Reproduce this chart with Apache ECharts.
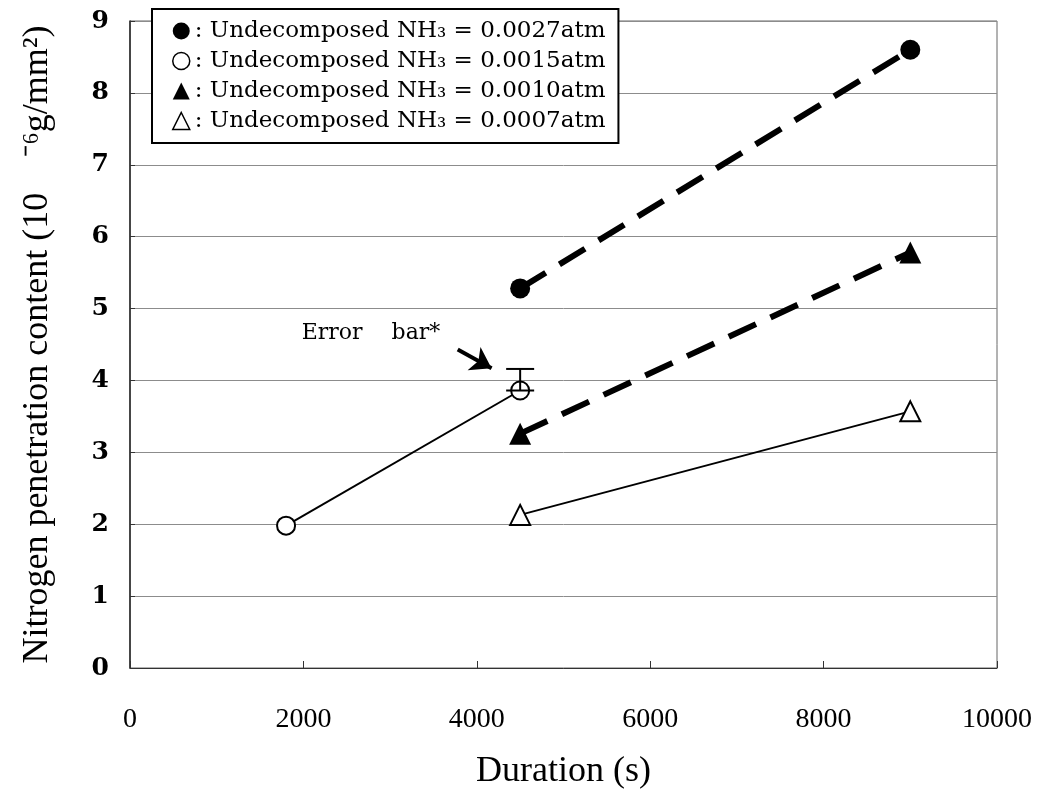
<!DOCTYPE html>
<html>
<head>
<meta charset="utf-8">
<script src="https://cdn.jsdelivr.net/npm/echarts@6/dist/echarts.min.js"></script>
<style>
  html, body { margin: 0; padding: 0; background: #fff; }
  #chart { width: 1049px; height: 796px; }
</style>
</head>
<body>
<div id="chart"></div>
<script>
// Nitrogen penetration content vs. duration, for four undecomposed NH3 pressures
const xTicks = [0, 2000, 4000, 6000, 8000, 10000];
const yTicks = [0, 1, 2, 3, 4, 5, 6, 7, 8, 9];

const seriesNames = [
  ': Undecomposed NH\u2083 = 0.0027atm',
  ': Undecomposed NH\u2083 = 0.0015atm',
  ': Undecomposed NH\u2083 = 0.0010atm',
  ': Undecomposed NH\u2083 = 0.0007atm'
];

// [duration (s), content (10^-6 g/mm^2)]
const nh3_0027 = [[4500, 5.28], [9000, 8.6]];
const nh3_0015 = [[1800, 1.98], [4500, 3.86]];
const nh3_0010 = [[4500, 3.26], [9000, 5.78]];
const nh3_0007 = [[4500, 2.13], [9000, 3.57]];

// error bar: [duration, low, high]
const errorBars = [[4500, 3.86, 4.16]];

// annotation: label anchor and arrow ends (data units)
const errorLabelPos = [2780, 4.65];
const errorArrow = [[3780, 4.43], [4170, 4.17]];

const serif = 'DejaVu Serif';
const tall = 'Liberation Serif';

const chart = echarts.init(document.getElementById('chart'), null, { renderer: 'canvas' });

const dashedStyle = { color: '#000', width: 6, type: [30, 16] };
const thinStyle = { color: '#000', width: 2 };

chart.setOption({
  animation: false,
  backgroundColor: '#fff',
  grid: {
    left: 130, right: 52, top: 21, bottom: 128,
    show: true, borderColor: '#666', borderWidth: 1, backgroundColor: 'transparent'
  },
  legend: {
    orient: 'vertical',
    left: 152, top: 9,
    padding: [9, 13, 9, 20],
    itemGap: 4,
    itemWidth: 17, itemHeight: 17,
    backgroundColor: '#fff',
    borderColor: '#000', borderWidth: 2,
    z: 10,
    textStyle: { fontFamily: serif, fontSize: 23, color: '#000', lineHeight: 26 },
    data: [
      { name: seriesNames[0], icon: 'circle', itemStyle: { color: '#000', borderWidth: 0 } },
      { name: seriesNames[1], icon: 'circle', itemStyle: { color: '#fff', borderColor: '#000', borderWidth: 1.5 } },
      { name: seriesNames[2], icon: 'triangle', itemStyle: { color: '#000', borderWidth: 0 } },
      { name: seriesNames[3], icon: 'triangle', itemStyle: { color: '#fff', borderColor: '#000', borderWidth: 1.5 } }
    ]
  },
  xAxis: {
    type: 'value',
    min: xTicks[0], max: xTicks[xTicks.length - 1], interval: 2000,
    name: 'Duration (s)',
    nameLocation: 'middle',
    nameGap: 86,
    nameTextStyle: { fontFamily: tall, fontSize: 36, color: '#000' },
    axisLine: { show: true, lineStyle: { color: '#333', width: 1 } },
    axisTick: { show: true, inside: true, length: 7, lineStyle: { color: '#333' } },
    axisLabel: {
      fontFamily: tall, fontSize: 28, color: '#000', margin: 38,
      formatter: function (v) { return String(v); }
    },
    splitLine: { show: false }
  },
  yAxis: {
    type: 'value',
    min: yTicks[0], max: yTicks[yTicks.length - 1], interval: 1,
    name: 'Nitrogen penetration content (10\u2003\u207B\u2076g/mm\u00B2)',
    nameLocation: 'middle',
    nameGap: 74,
    nameTextStyle: { fontFamily: tall, fontSize: 36, color: '#000' },
    axisLine: { show: true, lineStyle: { color: '#222', width: 1.5 } },
    axisTick: { show: true, inside: true, length: 5, lineStyle: { color: '#333' } },
    axisLabel: { fontFamily: serif, fontWeight: 'bold', fontSize: 25, color: '#000', margin: 21 },
    splitLine: { show: true, lineStyle: { color: '#8c8c8c', width: 1 } }
  },
  series: [
    {
      name: seriesNames[0], type: 'line', data: nh3_0027,
      symbol: 'circle', symbolSize: 20,
      itemStyle: { color: '#000' },
      lineStyle: dashedStyle, z: 3
    },
    {
      name: seriesNames[1], type: 'line', data: nh3_0015,
      symbol: 'circle', symbolSize: 18,
      itemStyle: { color: '#fff', borderColor: '#000', borderWidth: 2 },
      lineStyle: thinStyle, z: 3
    },
    {
      name: seriesNames[2], type: 'line', data: nh3_0010,
      symbol: 'triangle', symbolSize: 22,
      itemStyle: { color: '#000' },
      lineStyle: dashedStyle, z: 3
    },
    {
      name: seriesNames[3], type: 'line', data: nh3_0007,
      symbol: 'triangle', symbolSize: 20,
      itemStyle: { color: '#fff', borderColor: '#000', borderWidth: 2 },
      lineStyle: thinStyle, z: 3
    },
    {
      name: 'errorBar', type: 'custom', data: errorBars, z: 5,
      renderItem: function (params, api) {
        const x = api.value(0);
        const lo = api.coord([x, api.value(1)]);
        const hi = api.coord([x, api.value(2)]);
        const half = 14;
        const st = { stroke: '#000', lineWidth: 2 };
        return {
          type: 'group',
          children: [
            { type: 'line', shape: { x1: hi[0], y1: hi[1], x2: lo[0], y2: lo[1] }, style: st },
            { type: 'line', shape: { x1: hi[0] - half, y1: hi[1], x2: hi[0] + half, y2: hi[1] }, style: st },
            { type: 'line', shape: { x1: lo[0] - half, y1: lo[1], x2: lo[0] + half, y2: lo[1] }, style: st }
          ]
        };
      }
    },
    {
      name: 'errorArrow', type: 'lines', coordinateSystem: 'cartesian2d', z: 5,
      symbol: ['none', 'arrow'], symbolSize: 20,
      lineStyle: { color: '#000', width: 4, opacity: 1 },
      data: [{ coords: errorArrow }]
    },
    {
      name: 'errorLabel', type: 'scatter', z: 5,
      symbolSize: 0,
      itemStyle: { opacity: 1 },
      data: [errorLabelPos],
      label: {
        show: true, position: 'inside',
        formatter: 'Error\u2003 bar*',
        fontFamily: serif, fontSize: 22, color: '#000', opacity: 1
      }
    }
  ]
});
</script>
</body>
</html>
